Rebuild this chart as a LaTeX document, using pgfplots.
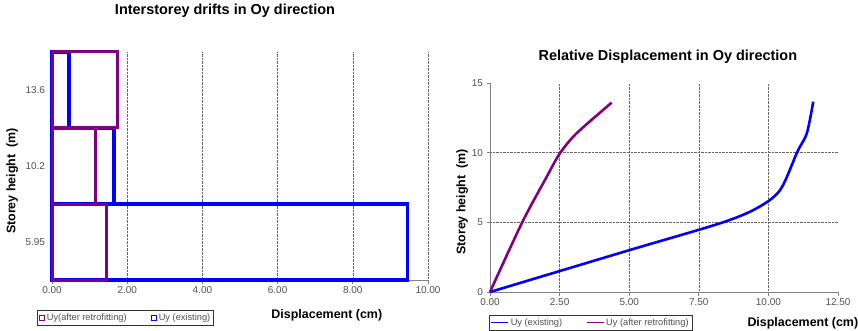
\documentclass[border=0pt]{standalone}
\usepackage{fontspec}
\setmainfont{Liberation Sans}
\usepackage{pgfplots}
\pgfplotsset{compat=1.18}
\definecolor{exblue}{RGB}{0,0,255}
\definecolor{retro}{RGB}{128,0,128}
\definecolor{axgray}{RGB}{128,128,128}
\definecolor{ticktext}{RGB}{80,80,80}
\pgfplotsset{
  common/.style={
    scale only axis,
    axis x line*=bottom, axis y line*=left,
    axis line style={axgray, line width=0.8bp},
    tick style={axgray, line width=0.8bp},
    tick align=outside,
    major tick length=3.5bp,
    ticklabel style={font=\fontsize{10}{11}\selectfont, text=ticktext},
    /pgf/number format/assume math mode=true,
    label style={font=\bfseries\fontsize{12.5}{14}\selectfont},
    title style={font=\bfseries\fontsize{14.5}{16}\selectfont, anchor=center},
    legend style={font=\fontsize{9.3}{10}\selectfont, text=ticktext, draw=black!80, line width=0.6bp, anchor=north west, inner sep=1.5bp,
      /tikz/every even column/.append style={column sep=22bp}},
    legend columns=2,
    clip=false,
  }
}
\begin{document}
\begin{tikzpicture}[x=1bp,y=1bp]
\useasboundingbox (0,0) rectangle (858,330);
% ---------------- Left chart ----------------
\begin{axis}[common,
  at={(52bp,50bp)}, anchor=south west, width=376bp, height=228bp,
  xmin=0, xmax=10, ymin=0, ymax=3,
  xtick={0,2,4,6,8,10},
  xticklabel={\pgfmathprintnumber[fixed,fixed zerofill,precision=2]{\tick}},
  xmajorgrids, grid style={densely dotted, black!60, line width=0.6bp},
  ytick={0.5,1.5,2.5}, yticklabels={5.95,10.2,13.6},
  ytick style={draw=none},
  minor ytick={0,1,2,3}, minor tick length=3.5bp,
  title={Interstorey drifts in Oy direction},
  title style={at={(axis description cs:0.46,1.154)}},
  xlabel={Displacement (cm)},
  xlabel style={at={(axis description cs:0.731,-0.153)}, anchor=center},
  ylabel={Storey height\ \ (m)},
  ylabel style={at={(axis description cs:-0.106,0.434)}, anchor=center},
  legend style={at={(axis description cs:-0.0399,-0.1316)}},
]
\addlegendimage{legend image code/.code={\draw[draw=retro,line width=1.1bp,fill=white] (1bp,-2.5bp) rectangle (6bp,2.5bp);}}
\addlegendentry{Uy(after retrofitting)}
\addlegendimage{legend image code/.code={\draw[draw=exblue,line width=1.1bp,fill=white] (1bp,-2.5bp) rectangle (6bp,2.5bp);}}
\addlegendentry{Uy (existing)}
\addplot[forget plot, xbar, bar width=1, bar shift=0pt, draw=exblue, line width=3.4bp, fill=none]
  coordinates {(9.45,0.5) (1.65,1.5) (0.45,2.5)};
\addplot[forget plot, xbar, bar width=1, bar shift=0pt, draw=retro, line width=3bp, fill=none]
  coordinates {(1.45,0.5) (1.15,1.5) (1.75,2.5)};
\end{axis}
% ---------------- Right chart ----------------
\begin{axis}[common,
  at={(490bp,38bp)}, anchor=south west, width=348bp, height=209bp,
  xmin=0, xmax=12.5, ymin=0, ymax=15,
  xtick={0,2.5,5,7.5,10}, extra x ticks={12.5}, extra x tick style={grid=none},
  xticklabel={\pgfmathprintnumber[fixed,fixed zerofill,precision=2]{\tick}},
  ytick={0,5,10}, extra y ticks={15}, extra y tick style={grid=none},
  grid=major, grid style={densely dotted, black!60, line width=0.6bp},
  title={Relative Displacement in Oy direction},
  title style={at={(axis description cs:0.511,1.096)}},
  xlabel={Displacement (cm)},
  xlabel style={at={(axis description cs:0.899,-0.148)}, anchor=center},
  ylabel={Storey height\ \ (m)},
  ylabel style={at={(axis description cs:-0.080,0.431)}, anchor=center},
  legend style={at={(axis description cs:-0.003,-0.11)}},
]
\addlegendimage{exblue, line width=1bp}
\addlegendentry{Uy (existing)}
\addlegendimage{retro, line width=1bp}
\addlegendentry{Uy (after retrofitting)}
\addplot[forget plot, exblue, line width=2.6bp, smooth] coordinates {
  (0,0) (5,3.0) (8.26,4.93) (9.58,6.01) (10.42,7.32) (11.04,10.07) (11.38,11.39) (11.61,13.66)};
\addplot[forget plot, retro, line width=2.6bp, smooth] coordinates {
  (0,0) (1.14,4.93) (2.04,8.28) (2.51,9.95) (3.11,11.39) (4.37,13.59)};
\end{axis}
\end{tikzpicture}
\end{document}
